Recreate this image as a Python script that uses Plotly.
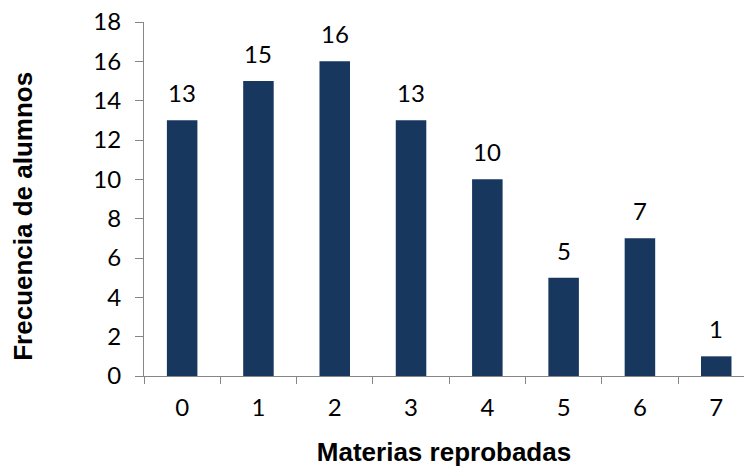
import plotly.graph_objects as go

# Number of failed subjects and how many students had each count
materias = ["0", "1", "2", "3", "4", "5", "6", "7"]
alumnos = [13, 15, 16, 13, 10, 5, 7, 1]
y_ticks = [0, 2, 4, 6, 8, 10, 12, 14, 16, 18]

bar_color = "#17375E"
axis_color = "#868686"
tick_font = dict(family="Lato", size=24, color="black")
title_font = dict(family="Liberation Sans", size=26, color="black")

fig = go.Figure(
    go.Bar(
        x=materias,
        y=alumnos,
        marker=dict(color=bar_color, line=dict(width=0)),
        width=0.4,
    )
)

# Value labels above each bar
for m, v in zip(materias, alumnos):
    fig.add_annotation(
        x=m, y=v, text=str(v), showarrow=False,
        yanchor="bottom", yshift=11, font=tick_font,
    )

# Vertical axis title, set slightly below the plot's middle
fig.add_annotation(
    text="<b>Frecuencia de alumnos</b>", textangle=-90,
    xref="paper", yref="paper", x=-0.202, y=0.452,
    xanchor="center", yanchor="middle", showarrow=False,
    font=title_font,
)

fig.update_layout(
    width=744,
    height=467,
    margin=dict(l=144, r=0, t=22, b=91),
    paper_bgcolor="white",
    plot_bgcolor="white",
    showlegend=False,
    xaxis=dict(
        type="category",
        range=[-0.5, 7.364],
        showline=True, linecolor=axis_color, linewidth=1,
        ticks="outside", ticklen=7, tickcolor=axis_color,
        tickson="boundaries",
        ticklabelstandoff=10,
        showgrid=False, zeroline=False,
        tickfont=tick_font,
        title=dict(text="<b>Materias reprobadas</b>", font=title_font, standoff=27),
    ),
    yaxis=dict(
        range=[0, 18],
        tickvals=y_ticks,
        showline=True, linecolor=axis_color, linewidth=1,
        ticks="outside", ticklen=8, tickcolor=axis_color,
        ticklabelstandoff=9,
        showgrid=False, zeroline=False,
        tickfont=tick_font,
    ),
)

fig.write_html("out.html")
